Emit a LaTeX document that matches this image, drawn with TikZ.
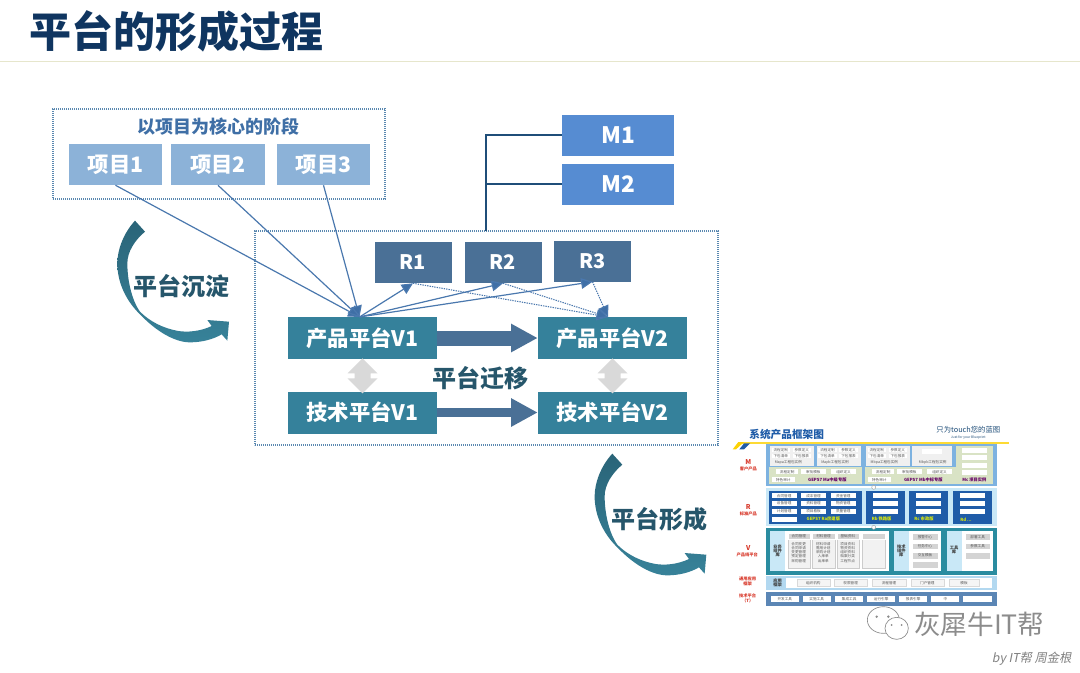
\documentclass[tikz,border=0pt]{standalone}
\usepackage{fontspec}
\setmainfont{Noto Sans CJK SC}
\newfontfamily\slantcjk[FakeSlant=0.2]{Noto Sans CJK SC}
\usetikzlibrary{arrows.meta,calc}
\definecolor{titleblue}{HTML}{0F3560}
\definecolor{teal1}{HTML}{35819B}
\definecolor{slate1}{HTML}{4A7096}
\definecolor{m1blue}{HTML}{568CD2}
\definecolor{itemblue}{HTML}{8CB2D8}
\definecolor{linkblue}{HTML}{4A78AE}
\definecolor{navy1}{HTML}{1F4E79}
\definecolor{dotblue}{HTML}{5A88B0}
\definecolor{headblue}{HTML}{3F6FA6}
\definecolor{tealtext}{HTML}{26566B}
\definecolor{graydbl}{HTML}{D9D9D9}
\definecolor{rulecol}{HTML}{E6E6CC}
\definecolor{arrowdark}{HTML}{2A6478}
\definecolor{arrowlight}{HTML}{378299}
\definecolor{thgreen}{HTML}{D9E3C5}
\definecolor{thblue}{HTML}{1F5CA8}
\definecolor{thband}{HTML}{7DB2E0}
\definecolor{thpale}{HTML}{C9E8F7}
\definecolor{thteal}{HTML}{2A8CA0}
\definecolor{thtech}{HTML}{5B86B5}
\definecolor{thred}{HTML}{D8392B}
\definecolor{thgray}{HTML}{D4D4D4}
\newcount\tbn
\newcommand\tb[6][]{\global\advance\tbn by 1\relax
  \path[#1] (#2,#3) rectangle node[tinytxt](tb\the\tbn){#6} (#4,#5);}
\newcommand\lbl[4][]{\global\advance\tbn by 1\relax
  \node[tinytxt,#1](tb\the\tbn) at (#2,#3){#4};}
\newcommand\curvearrow[2]{%
  \begin{scope}[shift={(#1,#2)},x=.25pt,y=-.25pt]
    \path[top color=arrowdark,bottom color=arrowlight]
      (105,62) .. controls (70,100) and (52,150) .. (52,190)
      .. controls (52,250) and (80,305) .. (122,345)
      .. controls (170,395) and (225,427) .. (270,427)
      .. controls (305,427) and (340,418) .. (365,403)
      -- (382,422) -- (387,365) -- (322,360) -- (335,378)
      .. controls (300,395) and (260,397) .. (235,393)
      .. controls (190,385) and (150,365) .. (120,335)
      .. controls (95,300) and (82,240) .. (82,190)
      .. controls (82,155) and (105,120) .. (135,95) -- cycle;
  \end{scope}}
\newcommand\dblarrow[1]{%
  \fill[graydbl,shift={(#1)}] (0,-1) -- (15,14) -- (8,14) -- (8,19) -- (15,19) -- (0,34)
    -- (-15,19) -- (-8,19) -- (-8,14) -- (-15,14) -- cycle;}
\tikzset{
  box/.style={inner sep=0pt,font=\bfseries\fontsize{#1}{#1}\selectfont,text=white},
  box/.default=16,
  tealbox/.style={box,fill=teal1,minimum width=149*0.75pt,minimum height=42*0.75pt},
  rbox/.style={box=15,fill=slate1,minimum width=77*0.75pt,minimum height=41*0.75pt},
  mbox/.style={box=17,fill=m1blue,minimum width=112*0.75pt,minimum height=41*0.75pt},
  itembox/.style={box=16,fill=itemblue,minimum width=93.5*0.75pt,minimum height=41*0.75pt},
  dotbox/.style={draw=dotblue,line width=0.9pt,dash pattern=on 0.9pt off 0.6pt,inner sep=0pt},
  biglabel/.style={inner sep=0pt,font=\bfseries\fontsize{18}{18}\selectfont,text=tealtext},
  thin link/.style={draw=linkblue,line width=0.9pt,-{Triangle[length=8.5pt,width=8pt,fill=headblue]}},
  dot link/.style={draw=linkblue,line width=0.8pt,dash pattern=on 1pt off 0.8pt,-{Triangle[length=8.5pt,width=8pt,fill=headblue]}},
  m link/.style={draw=navy1,line width=1pt},
  thick arrow/.style={draw=slate1,line width=#1*0.75pt,-{Triangle[length=20pt,width=20pt,fill=slate1]}},
  tinytxt/.style={inner sep=0pt,text=black!65,font=\fontsize{2.7}{3.2}\selectfont,align=center},
  btn/.style={fill=white},
  gbtn/.style={fill=thgray,draw=white,line width=0.2pt},
  capt/.style={tinytxt,font=\bfseries\fontsize{3.2}{3.2}\selectfont,text=#1},
  redlbl/.style={tinytxt,text=thred,font=\bfseries\fontsize{3.2}{3.8}\selectfont},
}
\begin{document}
\begin{tikzpicture}[x=0.75pt,y=-0.75pt]
\useasboundingbox (0,0) rectangle (1080,672);
\fill[white] (0,0) rectangle (1080,672);
% header
\coordinate (hl) at (0,61.5);
\coordinate (hr) at (1080,61.5);
\draw[draw=rulecol,line width=0.9pt] (hl) -- (hr);
\node[inner sep=0pt,text=titleblue,font=\bfseries\fontsize{31.5}{31.5}\selectfont] (title) at (176.5,31.5) {平台的形成过程};
% project frame
\node[dotbox,minimum width=332*0.75pt,minimum height=90*0.75pt] (projframe) at (219,154) {};
\node[inner sep=0pt,font=\bfseries\fontsize{13.5}{13.5}\selectfont,text=headblue] (projhead) at (218,127) {以项目为核心的阶段};
\node[itembox] (item1) at (115.5,164.5) {项目1};
\node[itembox] (item2) at (218,164.5) {项目2};
\node[itembox] (item3) at (323.5,164.5) {项目3};
% platform frame
\node[dotbox,minimum width=463*0.75pt,minimum height=214*0.75pt] (platframe) at (486.5,338) {};
\node[rbox] (r1) at (413,262.5) {R1};
\node[rbox] (r2) at (503,262.5) {R2};
\node[rbox] (r3) at (592.5,261) {R3};
\node[tealbox] (p1) at (362.5,338) {产品平台V1};
\node[tealbox] (p2) at (612.5,338) {产品平台V2};
\node[tealbox] (t1) at (362.5,412.5) {技术平台V1};
\node[tealbox] (t2) at (612.5,412.5) {技术平台V2};
\node[biglabel] (migr) at (480,378) {平台迁移};
% M boxes
\node[mbox] (m1) at (618,135) {M1};
\node[mbox] (m2) at (618,184) {M2};
\coordinate (mj) at (486,231);
\draw[m link] (m1.west) -| (mj);
\draw[m link] (m2.west) -| (mj);
% hubs
\coordinate (hub1) at (359.5,317);
\coordinate (hub2) at (608,317);
\draw[thin link] (item1.south) -- (hub1);
\draw[thin link] (item2.south) -- (hub1);
\draw[thin link] (item3.south) -- (hub1);
\draw[thin link] (hub1) -- (r1.south);
\draw[thin link] (hub1) -- (r2.south);
\draw[thin link] (hub1) -- (r3.south);
\draw[dot link] (r1.south) -- (hub2);
\draw[dot link] (r2.south) -- (hub2);
\draw[dot link] (r3.south) -- (hub2);
% block arrows
\draw[thick arrow=15] (p1.east) -- (p2.west);
\draw[thick arrow=9] (t1.east) -- (t2.west);
\dblarrow{p1.south}
\dblarrow{p2.south}
% curved arrows
\curvearrow{100}{200}
\node[biglabel] (sink) at (181.7,286) {平台沉淀};
\curvearrow{577.3}{433}
\node[biglabel] (form) at (659,519) {平台形成};
% thumbnail
\begin{scope}[shift={(720,420)},x=.25pt,y=-.25pt]
  \node[inner sep=0pt,font=\bfseries\fontsize{8}{8}\selectfont,text=thblue] (thtitle) at (200,43) {系统产品框架图};
  \node[inner sep=0pt,align=center,font=\fontsize{5.5}{3.5}\selectfont,text=navy1] (thslogan) at (745,38) {只为touch您的蓝图\\[1pt]{\fontsize{2.5}{3}\selectfont Just for your Blueprint}};
  \fill[yellow!70!orange!80!white] (60,66) rectangle (868,71);
  \fill[yellow!70!orange] (38,88) -- (55,66) -- (72,66) -- (48,88) -- cycle;
  \fill[thblue] (58,88) -- (72,70) -- (90,70) -- (72,88) -- cycle;
  % M band
  \tb[fill=thband]{138}{72}{830}{197}{}
  \foreach \dx/\cc in {0/Mapa,140/Mapb,288/Mbpa}{
    \tb[fill=black!6]{150+\dx}{78}{282+\dx}{137}{}
    \tb[btn]{155+\dx}{83}{210+\dx}{97}{流程定制}
    \tb[btn]{218+\dx}{83}{273+\dx}{97}{参数定义}
    \tb[btn]{155+\dx}{101}{210+\dx}{115}{下包清单}
    \tb[btn]{218+\dx}{101}{273+\dx}{115}{下包报表}
    \lbl{205+\dx}{128}{\cc 工程包实例}
  }
  \tb[fill=black!6]{576}{78}{696}{137}{}
  \tb[btn]{607}{88}{665}{103}{}
  \lbl{638}{128}{Mbpb工程包实例}
  \foreach \dx/\cc in {0/GEPS7 Ma中级专版,288/GEPS7 Mb中标专版}{
    \tb[fill=thgreen]{148+\dx}{140}{425+\dx}{192}{}
    \tb[btn]{168+\dx}{148}{235+\dx}{163}{流程定制}
    \tb[btn]{242+\dx}{148}{318+\dx}{163}{审批模板}
    \tb[btn]{333+\dx}{148}{408+\dx}{163}{组织定义}
    \tb[btn]{155+\dx}{172}{225+\dx}{187}{特色审计}
    \lbl[capt=violet!80!black]{322+\dx}{180}{\cc}
  }
  \tb[fill=thgreen]{708}{78}{818}{192}{}
  \foreach \yy in {83,105,128,150}{\tb[btn]{726}{\yy}{802}{\yy+15}{}}
  \lbl[capt=violet!80!black]{763}{180}{Mc 项目实例}
  % R band
  \tb[fill=thpale]{138}{205}{830}{317}{}
  \tb[fill=thblue]{148}{212}{425}{312}{}
  \tb[fill=thblue]{438}{212}{555}{312}{}
  \tb[fill=thblue]{567}{212}{685}{312}{}
  \tb[fill=thblue]{698}{212}{816}{312}{}
  \foreach \xa/\xb/\yy/\tt in {155/230/220/合同管理,243/318/220/成本管理,332/408/220/资金管理,155/230/243/设备管理,243/318/243/资料管理,332/408/243/物资管理,155/230/267/计划管理,243/318/267/项目看板,332/408/267/质量管理}{
    \tb[btn]{\xa}{\yy}{\xb}{\yy+15}{\tt}}
  \tb[btn]{155}{290}{230}{305}{}
  \foreach \xa in {458,588,719}{\foreach \yy in {220,243,267}{\tb[btn]{\xa}{\yy}{\xa+76}{\yy+15}{}}}
  \lbl[capt=yellow!85!green]{310}{298}{GEPS7 Ra房建版}
  \lbl[capt=yellow!85!green]{485}{298}{Rb 铁路版}
  \lbl[capt=yellow!85!green]{612}{298}{Rc 市政版}
  \lbl[capt=yellow!85!green]{738}{298}{Rd ...}
  % V band
  \tb[fill=thteal]{138}{325}{830}{465}{}
  \tb[fill=white]{150}{332}{507}{452}{}
  \tb[fill=thpale]{150}{332}{195}{452}{}
  \lbl[capt=black!75]{173}{392}{业务\\组件\\库}
  \foreach \xa/\tt/\bd in {203/合同管理/合同变更\\合同申请\\变更管理\\预定管理\\采购管理,277/材料管理/材料申请\\需用计划\\采购计划\\入库单\\出库单,350/基础资料/项目资料\\物资资料\\组织资料\\档案分类\\工程节点,427//}{
    \tb[fill=black!5,draw=black!20,line width=0.2pt]{\xa}{340}{\xa+67}{445}{}
    \tb[gbtn]{\xa}{340}{\xa+67}{358}{\tt}
    \lbl{\xa+33}{397}{\bd}
  }
  \tb[fill=white]{522}{332}{662}{452}{}
  \tb[fill=thpale]{522}{332}{567}{452}{}
  \lbl[capt=black!75]{544}{392}{技术\\组件\\库}
  \foreach \yy/\tt in {340/报警中心,368/任务中心,396/交互模板,424/}{\tb[gbtn]{576}{\yy}{654}{\yy+20}{\tt}}
  \tb[fill=white]{680}{332}{820}{452}{}
  \tb[fill=thpale]{680}{332}{725}{452}{}
  \lbl[capt=black!75]{702}{390}{工具\\库}
  \foreach \yy/\tt in {340/部署工具,368/参数工具,396/}{\tb[gbtn]{735}{\yy}{811}{\yy+20}{\tt}}
  % connector dots
  \node[draw=black!40,fill=white,circle,inner sep=0pt,minimum size=3pt,line width=0.3pt] (thc1) at (461,202) {};
  \node[draw=black!40,fill=white,circle,inner sep=0pt,minimum size=3pt,line width=0.3pt] (thc2) at (461,322) {};
  % app band
  \tb[fill=thpale!70!thband]{138}{468}{830}{510}{}
  \tb[fill=white]{198}{473}{815}{505}{}
  \lbl[capt=black!75]{173}{489}{应用\\框架}
  \foreach \xa/\xb/\tt in {230/330/组织机构,342/442/权限管理,457/557/流程管理,572/672/门户管理,686/778/模板}{
    \tb[fill=black!4,draw=black!15,line width=0.2pt]{\xa}{478}{\xb}{498}{\tt}}
  % tech band
  \tb[fill=thtech]{138}{515}{830}{557}{}
  \foreach \xa/\xb/\tt in {152/237/开发工具,248/332/实施工具,345/430/集成工具,442/525/运行引擎,537/622/报表引擎,634/718/中,730/816/}{
    \tb[btn]{\xa}{527}{\xb}{546}{\tt}}
  % left labels
  \node[redlbl,font=\bfseries\fontsize{5}{5}\selectfont] (lm) at (85,125) {M};
  \node[redlbl] (lm2) at (85,146) {客户产品};
  \node[redlbl,font=\bfseries\fontsize{5}{5}\selectfont] (lr) at (85,262) {R};
  \node[redlbl] (lr2) at (85,282) {标准产品};
  \node[redlbl,font=\bfseries\fontsize{5}{5}\selectfont] (lv) at (85,384) {V};
  \node[redlbl] (lv2) at (82,404) {产品线平台};
  \node[redlbl] (la) at (83,483) {通用应用\\框架};
  \node[redlbl] (lt) at (83,535) {技术平台\\（T）};
  % watermark
  \draw[draw=black!45,fill=white,line width=0.5pt] (490,600) ellipse [x radius=48,y radius=40];
  \draw[draw=black!45,fill=white,line width=0.5pt] (530,625) ellipse [x radius=35,y radius=33];
  \fill[black!45] (470,590) circle (4) (505,590) circle (4) (515,615) circle (3) (545,615) circle (3);
  \node[inner sep=0pt,text=black!45,font=\fontsize{20}{20}\selectfont] (wm) at (778,612) {灰犀牛IT帮};
  \node[inner sep=0pt,text=black!50,font=\slantcjk\fontsize{9.2}{9.2}\selectfont] (by) at (935,717) {by IT帮 周金根};
\end{scope}
\end{tikzpicture}
\end{document}
